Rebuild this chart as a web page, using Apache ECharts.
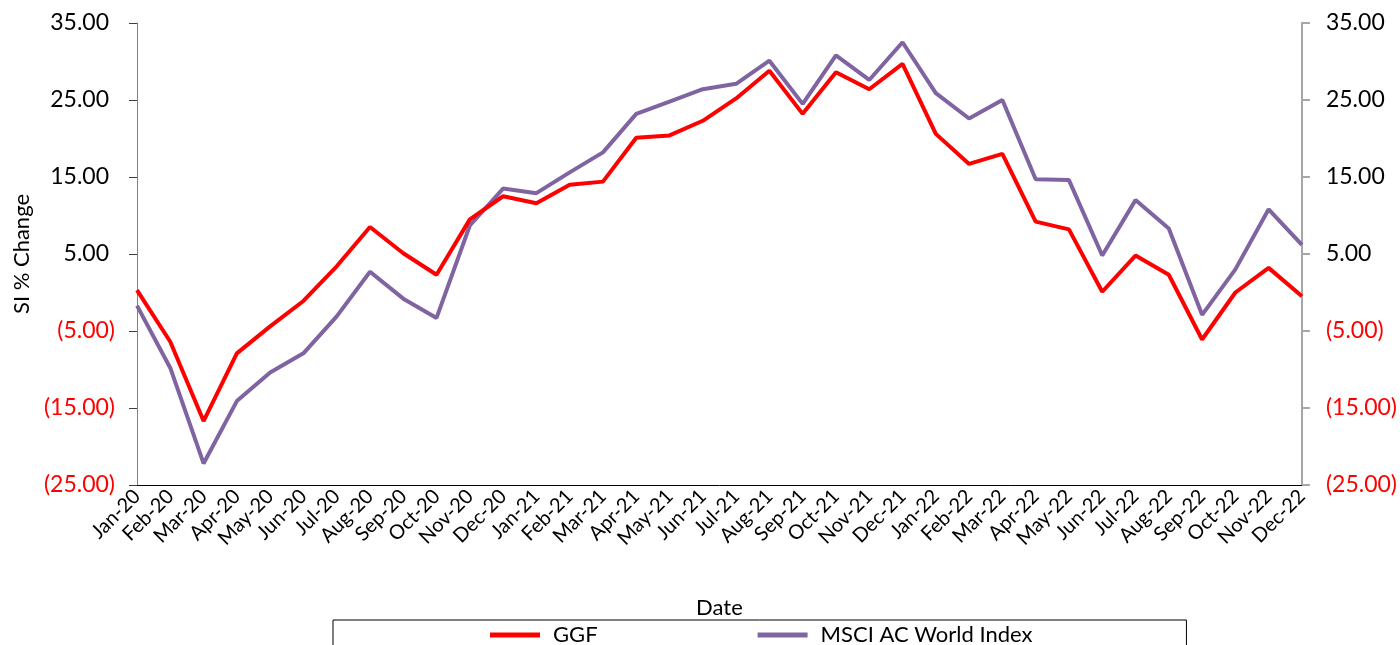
<!DOCTYPE html>
<html>
<head>
<meta charset="utf-8">
<script src="https://cdn.jsdelivr.net/npm/echarts@6/dist/echarts.min.js"></script>
<style>
html,body{margin:0;padding:0;background:#fff;}
#chart{width:1400px;height:645px;}
</style>
</head>
<body>
<div id="chart"></div>
<script>
var categories = ['Jan-20','Feb-20','Mar-20','Apr-20','May-20','Jun-20','Jul-20','Aug-20','Sep-20','Oct-20','Nov-20','Dec-20',
  'Jan-21','Feb-21','Mar-21','Apr-21','May-21','Jun-21','Jul-21','Aug-21','Sep-21','Oct-21','Nov-21','Dec-21',
  'Jan-22','Feb-22','Mar-22','Apr-22','May-22','Jun-22','Jul-22','Aug-22','Sep-22','Oct-22','Nov-22','Dec-22'];
var ggf = [0.3,-6.4,-16.7,-7.9,-4.4,-1.1,3.4,8.5,5.1,2.3,9.5,12.5,
  11.6,14.0,14.4,20.1,20.4,22.3,25.2,28.8,23.2,28.6,26.4,29.7,
  20.6,16.7,18.0,9.2,8.2,0.1,4.8,2.3,-6.1,0.0,3.2,-0.5];
var msci = [-1.7,-9.8,-22.2,-14.1,-10.4,-7.9,-3.1,2.7,-0.8,-3.3,8.7,13.5,
  12.9,15.6,18.2,23.2,24.8,26.4,27.1,30.1,24.5,30.8,27.6,32.5,
  25.9,22.6,25.0,14.7,14.6,4.8,12.0,8.3,-2.9,3.0,10.8,6.2];
var yTicks = [-25,-15,-5,5,15,25,35];
var seriesNames = ['GGF','MSCI AC World Index'];

var FONT = 'Lato';
function fmtLeft(v){
  if (v < 0) return '{n|(' + Math.abs(v).toFixed(2) + ')}';
  return '{p|' + v.toFixed(2) + '}';
}
function fmtRight(v){
  if (v < 0) return '{n|(' + Math.abs(v).toFixed(2) + ')}';
  return '{p|' + v.toFixed(2) + '}';
}
var richL = {
  p:{color:'#000',fontSize:23,fontFamily:FONT,padding:[0,6,0,0]},
  n:{color:'#ff0000',fontSize:23,fontFamily:FONT}
};
var richR = {
  p:{color:'#000',fontSize:23,fontFamily:FONT},
  n:{color:'#ff0000',fontSize:23,fontFamily:FONT}
};

var chart = echarts.init(document.getElementById('chart'));
chart.setOption({
  animation:false,
  backgroundColor:'#fff',
  grid:{left:137,right:96,top:23,bottom:160,containLabel:false},
  legend:{
    left:333, top:620,
    padding:[4,154,4,157],
    borderColor:'#000', borderWidth:1,
    itemWidth:50, itemHeight:5, itemGap:160,
    textStyle:{fontSize:22,fontFamily:FONT,color:'#000',padding:[0,0,0,8]},
    data:[{name:seriesNames[0],icon:'rect'},{name:seriesNames[1],icon:'rect'}]
  },
  xAxis:{
    type:'category', data:categories, boundaryGap:false,
    name:'Date', nameLocation:'middle', nameGap:112,
    nameTextStyle:{fontSize:22,fontFamily:FONT,color:'#000'},
    axisLine:{onZero:false,lineStyle:{color:'#000',width:1}},
    axisTick:{show:false},
    axisLabel:{interval:0,rotate:45,fontSize:20,fontFamily:FONT,color:'#000',margin:8},
    splitLine:{show:false}
  },
  yAxis:[{
    type:'value', min:-25, max:35, position:'left',
    name:'SI % Change', nameLocation:'middle', nameGap:104, nameRotate:90,
    nameTextStyle:{fontSize:22,fontFamily:FONT,color:'#000'},
    axisLine:{show:true,onZero:false,lineStyle:{color:'#808080',width:1}},
    axisTick:{show:true,length:8,customValues:yTicks,lineStyle:{color:'#404040'}},
    axisLabel:{customValues:yTicks,formatter:fmtLeft,rich:richL,margin:22},
    splitLine:{show:false}
  },{
    type:'value', min:-25, max:35, position:'right',
    axisLine:{show:true,onZero:false,lineStyle:{color:'#a6a6a6',width:2}},
    axisTick:{show:true,length:8,customValues:yTicks,lineStyle:{color:'#a6a6a6',width:2}},
    axisLabel:{customValues:yTicks,formatter:fmtRight,rich:richR,margin:24},
    splitLine:{show:false}
  }],
  series:[{
    name:seriesNames[0], type:'line', data:ggf, yAxisIndex:0,
    showSymbol:false, symbol:'none',
    lineStyle:{color:'#ff0000',width:4}, itemStyle:{color:'#ff0000'}, z:3
  },{
    name:seriesNames[1], type:'line', data:msci, yAxisIndex:0,
    showSymbol:false, symbol:'none',
    lineStyle:{color:'#8064a2',width:4}, itemStyle:{color:'#8064a2'}, z:2
  }]
});
</script>
</body>
</html>
